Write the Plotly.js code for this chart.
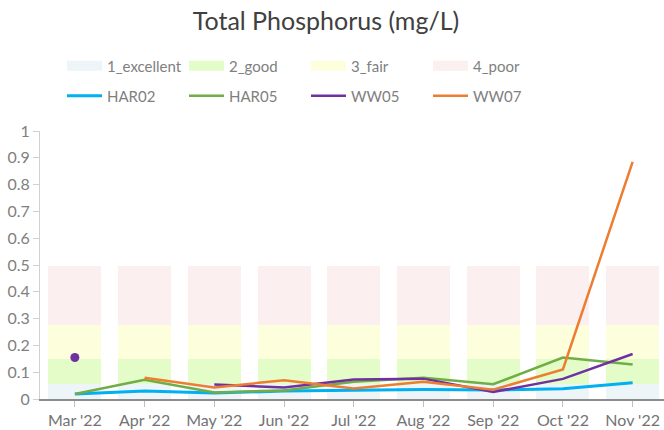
<!DOCTYPE html>
<html>
<head>
<meta charset="utf-8">
<script src="https://cdn.plot.ly/plotly-3.0.1.min.js"></script>
<style>html,body{margin:0;padding:0;background:#fff;}#chart{width:664px;height:430px;}</style>
</head>
<body>
<div id="chart"></div>
<script>
const months = ["Mar '22","Apr '22","May '22","Jun '22","Jul '22","Aug '22","Sep '22","Oct '22","Nov '22"];
const bandNames = ["1_excellent","2_good","3_fair","4_poor"];
const bandTops = [0.057, 0.15, 0.276, 0.495];
const bandColors = ["#edf5f8","#e4fcc8","#fdfedc","#fcefef"];

const HAR02 = [0.019, 0.030, 0.022, 0.030, 0.033, 0.035, 0.034, 0.038, 0.061];
const HAR05 = [0.019, 0.072, 0.024, 0.032, 0.064, 0.079, 0.055, 0.155, 0.129];
const WW05  = [0.155, null, 0.054, 0.043, 0.073, 0.076, 0.026, 0.075, 0.168];
const WW07  = [null, 0.079, 0.043, 0.070, 0.039, 0.064, 0.035, 0.110, 0.885];

const seriesNames = ["HAR02","HAR05","WW05","WW07"];
const seriesData = [HAR02, HAR05, WW05, WW07];
const seriesColors = ["#00b0f0","#70ad47","#7030a0","#ed7d31"];
const seriesWidths = [3, 2.5, 2.5, 2.5];

const traces = [];
bandNames.forEach((n, i) => {
  const h = bandTops[i] - (i ? bandTops[i-1] : 0);
  traces.push({
    type: 'bar', x: months, y: months.map(() => h), name: n,
    marker: {color: bandColors[i], line: {width: 0}},
    showlegend: false, hoverinfo: 'skip'
  });
});
bandNames.forEach((n, i) => {
  traces.push({
    type: 'scatter', mode: 'lines', x: [null], y: [null], name: n,
    line: {color: bandColors[i], width: 13}, legend: 'legend', showlegend: true
  });
});
seriesNames.forEach((n, i) => {
  const d = seriesData[i];
  traces.push({
    type: 'scatter', mode: 'lines', x: months, y: d, name: n,
    line: {color: seriesColors[i], width: seriesWidths[i]},
    connectgaps: false, legend: 'legend2'
  });
  const iso = d.map((v, j) => (v !== null && (j === 0 || d[j-1] === null) && (j === d.length-1 || d[j+1] === null)) ? v : null);
  if (iso.some(v => v !== null)) {
    traces.push({
      type: 'scatter', mode: 'markers', x: months, y: iso, name: n, showlegend: false,
      marker: {color: seriesColors[i], size: 9, opacity: 1, line: {width: 0}}
    });
  }
});

const legendCommon = {
  orientation: 'h', xref: 'container', yref: 'container', xanchor: 'left', yanchor: 'middle',
  font: {family: 'Lato, sans-serif', size: 15, color: '#808080'},
  entrywidth: 72, entrywidthmode: 'pixels', itemwidth: 35, bgcolor: 'rgba(0,0,0,0)',
  traceorder: 'normal'
};

const tickFont = {family: 'Lato, sans-serif', size: 16, color: '#737373'};

const layout = {
  width: 664, height: 430,
  margin: {l: 40, r: 0, t: 131, b: 31},
  paper_bgcolor: '#fff', plot_bgcolor: '#fff',
  font: {family: 'Lato, sans-serif', color: '#7f7f7f'},
  title: {text: 'Total Phosphorus (mg/L)', x: 326/664, xref: 'container', xanchor: 'center', y: 1 - 21/430, yref: 'container', yanchor: 'middle',
          font: {family: 'Lato, sans-serif', size: 25, color: '#404040'}},
  barmode: 'stack', bargap: 0.24,
  xaxis: {
    type: 'category', range: [-0.5, 8.45], showgrid: false, zeroline: false,
    showline: true, linecolor: '#8c8c8c', linewidth: 1.5,
    ticks: 'outside', ticklen: 6, tickcolor: '#bfbfbf', tickwidth: 1,
    tickfont: tickFont
  },
  yaxis: {
    range: [0, 1], dtick: 0.1, showgrid: false, zeroline: false,
    showline: true, linecolor: '#d0d0d0', linewidth: 1,
    ticks: 'outside', ticklen: 6, tickcolor: '#d0d0d0',
    tickfont: Object.assign({}, tickFont, {color: '#808080'})
  },
  legend: Object.assign({}, legendCommon, {x: 62/664, y: 1 - 66/430}),
  legend2: Object.assign({}, legendCommon, {x: 62/664, y: 1 - 96/430}),
  showlegend: true
};

Plotly.newPlot('chart', traces, layout, {displayModeBar: false, staticPlot: true});
</script>
</body>
</html>
